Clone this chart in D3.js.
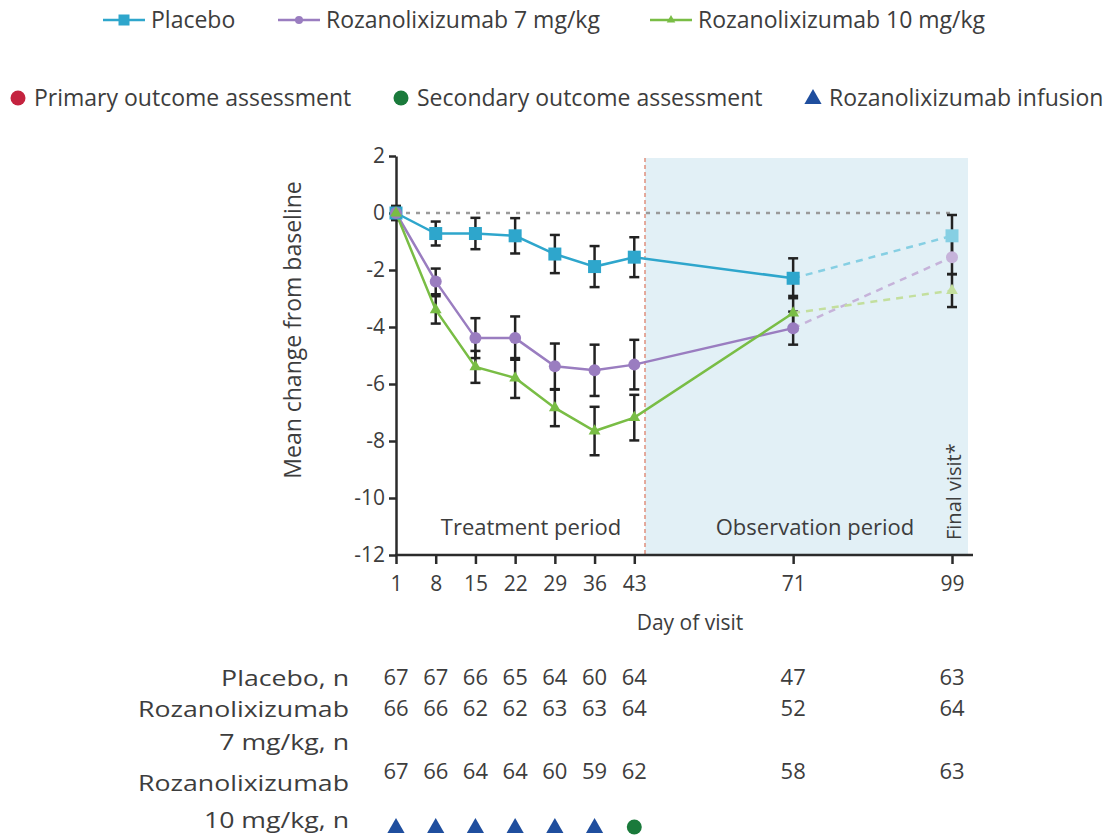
<!DOCTYPE html>
<html>
<head>
<meta charset="utf-8">
<script src="https://cdn.jsdelivr.net/npm/d3@7"></script>
<style>
  body { margin: 0; background: #fff; }
  text { font-family: "Open Sans", "DejaVu Sans", sans-serif; fill: #3d3d3d; }
</style>
</head>
<body>
<div id="chart"></div>
<script>
'use strict';

var days = [1, 8, 15, 22, 29, 36, 43, 71, 99];
var placebo = [0, -0.72, -0.72, -0.8, -1.44, -1.88, -1.55, -2.29, -0.8];
var placeboErr = [0, 0.42, 0.55, 0.62, 0.67, 0.72, 0.7, 0.7, 0.73];
var roza7 = [0, -2.4, -4.39, -4.39, -5.38, -5.52, -5.32, -4.04, -1.55];
var roza7Err = [0, 0.45, 0.7, 0.76, 0.8, 0.9, 0.87, 0.58, 0.6];
var roza10 = [0, -3.4, -5.4, -5.79, -6.84, -7.65, -7.18, -3.51, -2.72];
var roza10Err = [0.25, 0.48, 0.56, 0.7, 0.64, 0.85, 0.8, 0.6, 0.58];

var nPlacebo = [67, 67, 66, 65, 64, 60, 64, 47, 63];
var nRoza7 = [66, 66, 62, 62, 63, 63, 64, 52, 64];
var nRoza10 = [67, 66, 64, 64, 60, 59, 62, 58, 63];
var infusionDays = [1, 8, 15, 22, 29, 36];
var secondaryDays = [43];
var yTicks = [2, 0, -2, -4, -6, -8, -10, -12];

var series = [
    {name: "Placebo", values: placebo, err: placeboErr, color: "#2ea6cc", faded: "#86cfe3", shape: "square"},
    {name: "Rozanolixizumab 7 mg/kg", values: roza7, err: roza7Err, color: "#9a7dc0", faded: "#c6b3da", shape: "circle"},
    {name: "Rozanolixizumab 10 mg/kg", values: roza10, err: roza10Err, color: "#79bd45", faded: "#c3df9e", shape: "triangle"}
];

var width = 1115, height = 838;
var svg = d3.select("#chart").append("svg")
    .attr("width", width)
    .attr("height", height);

var x = d3.scaleLinear().domain([1, 99]).range([396, 952]);
var y = d3.scaleLinear().domain([-12, 2]).range([555, 156]);

// observation period shading
var splitX = 645;
svg.append("rect")
    .attr("x", splitX)
    .attr("y", 158)
    .attr("width", 968 - splitX)
    .attr("height", y(-12) - 158)
    .style("fill", "#e2f0f6");

svg.append("line")
    .attr("x1", splitX).attr("x2", splitX)
    .attr("y1", 158).attr("y2", y(-12))
    .style("stroke", "#e0907e")
    .style("stroke-width", 1.5)
    .style("stroke-dasharray", "4,3");

// zero reference
svg.append("line")
    .attr("x1", x(1)).attr("x2", x(99))
    .attr("y1", y(0)).attr("y2", y(0))
    .style("stroke", "#9a9a9a")
    .style("stroke-width", 2.5)
    .style("stroke-dasharray", "4,6");

// axes
var xAxis = svg.append("g")
    .attr("transform", "translate(0," + y(-12) + ")")
    .call(d3.axisBottom(x).tickValues(days).tickSize(9).tickSizeOuter(0).tickPadding(12));
xAxis.select(".domain").remove();
xAxis.append("line")
    .attr("x1", x(1) - 1).attr("x2", 973)
    .style("stroke", "#2b2b2b").style("stroke-width", 2.5);

var yAxis = svg.append("g")
    .attr("transform", "translate(" + x(1) + ",0)")
    .call(d3.axisLeft(y).tickValues(yTicks).tickSize(7).tickSizeOuter(0).tickPadding(4)
        .tickFormat(function (d) { return String(d); }));
yAxis.select(".domain").style("stroke", "#2b2b2b").style("stroke-width", 2.5);

svg.selectAll(".tick line").style("stroke", "#2b2b2b").style("stroke-width", 2.5);
svg.selectAll(".tick text")
    .style("font-size", "21px")
    .style("fill", "#3d3d3d")
    .style("font-family", "Open Sans, sans-serif");

svg.append("text")
    .attr("transform", "translate(301,330) rotate(-90)")
    .attr("text-anchor", "middle")
    .style("font-size", "23px")
    .text("Mean change from baseline");

svg.append("text")
    .attr("x", 690).attr("y", 630)
    .attr("text-anchor", "middle")
    .style("font-size", "21px")
    .text("Day of visit");

svg.append("text")
    .attr("x", 531).attr("y", 535)
    .attr("text-anchor", "middle")
    .style("font-size", "22px")
    .text("Treatment period");

svg.append("text")
    .attr("x", 815).attr("y", 535)
    .attr("text-anchor", "middle")
    .style("font-size", "22px")
    .text("Observation period");

svg.append("text")
    .attr("transform", "translate(961,540) rotate(-90)")
    .attr("text-anchor", "start")
    .style("font-size", "20px")
    .text("Final visit*");

// markers
var drawMarker = function (g, shape, cx, cy, fill, size) {
    if (shape === "square") {
        g.append("rect")
            .attr("x", cx - size / 2).attr("y", cy - size / 2)
            .attr("width", size).attr("height", size)
            .style("fill", fill);
    } else if (shape === "circle") {
        g.append("circle")
            .attr("cx", cx).attr("cy", cy).attr("r", size / 2)
            .style("fill", fill);
    } else {
        g.append("path")
            .attr("transform", "translate(" + cx + "," + cy + ")")
            .attr("d", d3.symbol().type(d3.symbolTriangle).size(size * size * 0.5)())
            .style("fill", fill);
    }
};

var line = d3.line()
    .x(function (d) { return x(d.day); })
    .y(function (d) { return y(d.v); });

var seriesPoints = series.map(function (s) {
    return days.map(function (d, i) {
        return {day: d, v: s.values[i], e: s.err[i]};
    });
});

// error bars
series.forEach(function (s, si) {
    var eb = svg.append("g");
    seriesPoints[si].forEach(function (p) {
        if (!p.e) return;
        eb.append("line")
            .attr("x1", x(p.day)).attr("x2", x(p.day))
            .attr("y1", y(p.v + p.e)).attr("y2", y(p.v - p.e))
            .style("stroke", "#222").style("stroke-width", 2.5);
        [p.v + p.e, p.v - p.e].forEach(function (v) {
            eb.append("line")
                .attr("x1", x(p.day) - 5).attr("x2", x(p.day) + 5)
                .attr("y1", y(v)).attr("y2", y(v))
                .style("stroke", "#222").style("stroke-width", 2.5);
        });
    });
});

// lines: solid to day 71, dashed to the final visit
series.forEach(function (s, si) {
    var pts = seriesPoints[si];
    svg.append("path")
        .datum(pts.slice(0, 8))
        .attr("d", line)
        .style("fill", "none")
        .style("stroke", s.color)
        .style("stroke-width", 2.5);
    svg.append("path")
        .datum(pts.slice(7))
        .attr("d", line)
        .style("fill", "none")
        .style("stroke", s.faded)
        .style("stroke-width", 2.5)
        .style("stroke-dasharray", "7,6");
});

// points
series.forEach(function (s, si) {
    var g = svg.append("g");
    var size = s.shape === "square" ? 13 : (s.shape === "circle" ? 12 : 11);
    seriesPoints[si].forEach(function (p) {
        drawMarker(g, s.shape, x(p.day), y(p.v), p.day === 99 ? s.faded : s.color, size);
    });
});

// legend, first row
var legendX = [103, 278, 650];
series.forEach(function (s, i) {
    var g = svg.append("g").attr("transform", "translate(" + legendX[i] + ",20)");
    g.append("line").attr("x1", 0).attr("x2", 42)
        .style("stroke", s.color).style("stroke-width", 2.5);
    drawMarker(g, s.shape, 21, 0, s.color, s.shape === "square" ? 11 : 8);
    g.append("text").attr("x", 48).attr("y", 8)
        .style("font-size", "23px")
        .text(s.name);
});

// legend, second row
var keyItems = [
    {label: "Primary outcome assessment", color: "#c4233f", shape: "circle", x: 18},
    {label: "Secondary outcome assessment", color: "#1a7a3b", shape: "circle", x: 401},
    {label: "Rozanolixizumab infusion", color: "#1f4e9e", shape: "triangle", x: 813}
];
keyItems.forEach(function (k) {
    var g = svg.append("g").attr("transform", "translate(" + k.x + ",98)");
    if (k.shape === "circle") {
        drawMarker(g, "circle", 0, 0, k.color, 15);
    } else {
        drawMarker(g, "triangle", 0, 1, k.color, 16);
    }
    g.append("text").attr("x", 16).attr("y", 8)
        .style("font-size", "23px")
        .text(k.label);
});

// patient counts table
var rows = [
    {labels: ["Placebo, n"], labelY: [686], counts: nPlacebo, countY: 685},
    {labels: ["Rozanolixizumab", "7 mg/kg, n"], labelY: [717, 750], counts: nRoza7, countY: 716},
    {labels: ["Rozanolixizumab", "10 mg/kg, n"], labelY: [791, 828], counts: nRoza10, countY: 779}
];
rows.forEach(function (r) {
    r.labels.forEach(function (l, i) {
        svg.append("text")
            .attr("transform", "translate(349," + r.labelY[i] + ") scale(1.27,1)")
            .attr("text-anchor", "end")
            .style("font-size", "21px")
            .text(l);
    });
    svg.selectAll(null)
        .data(r.counts)
        .enter()
        .append("text")
        .attr("x", function (d, i) { return x(days[i]); })
        .attr("y", r.countY)
        .attr("text-anchor", "middle")
        .style("font-size", "22px")
        .text(function (d) { return d; });
});

var marks = svg.append("g");
infusionDays.forEach(function (d) {
    drawMarker(marks, "triangle", x(d), 828, "#1f4e9e", 16);
});
secondaryDays.forEach(function (d) {
    drawMarker(marks, "circle", x(d), 827, "#1a7a3b", 15);
});
</script>
</body>
</html>
